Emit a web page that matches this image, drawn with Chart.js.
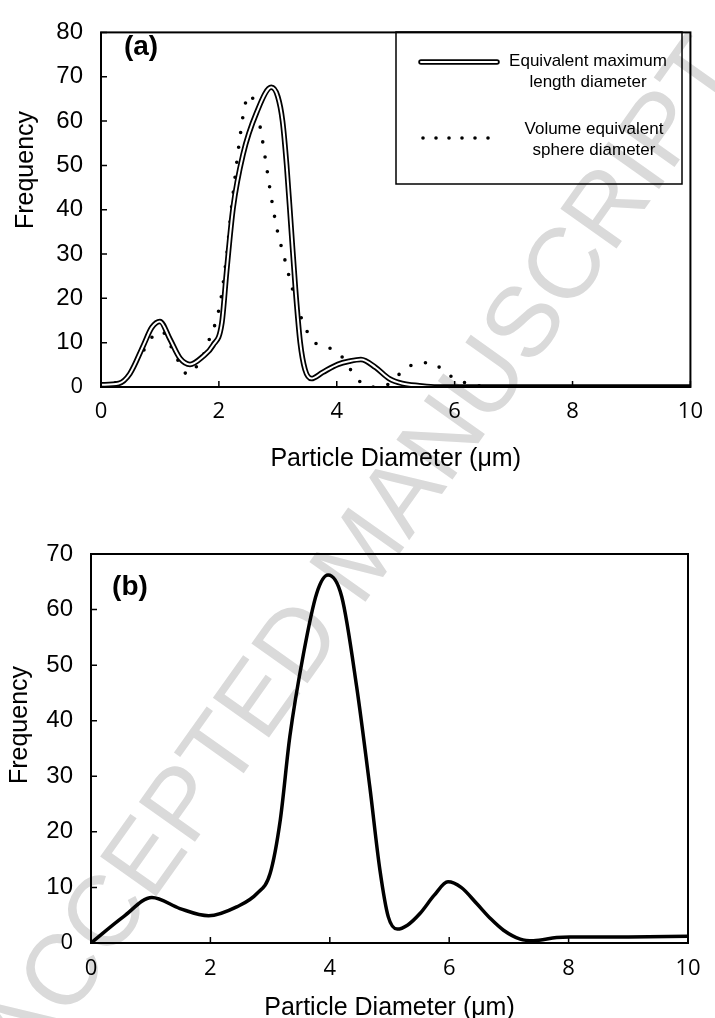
<!DOCTYPE html>
<html>
<head>
<meta charset="utf-8">
<script src="https://cdn.jsdelivr.net/npm/chart.js@4.4.1/dist/chart.umd.min.js"></script>
<style>
  html, body { margin: 0; padding: 0; background: #fff; }
  body { width: 715px; height: 1018px; position: relative; overflow: hidden; }
  .mark {
    position: absolute; left: 358px; top: 552px;
    transform: translate(-50%, -50%) rotate(-54.6deg);
    font: 100px "Liberation Sans", Arial, sans-serif;
    color: #dadada; white-space: nowrap; line-height: 1; z-index: 0;
  }
  #chartA { position: absolute; left: 0; top: 0; z-index: 1; }
  #chartB { position: absolute; left: 0; top: 500px; z-index: 1; }
</style>
</head>
<body>
<div class="mark">ACCEPTED MANUSCRIPT</div>
<canvas id="chartA" width="715" height="480"></canvas>
<canvas id="chartB" width="715" height="518"></canvas>
<script>
// (a) equivalent maximum length diameter
const mldX = [0, 0.3, 0.49, 0.72, 0.86, 1.0, 1.17, 1.34, 1.51, 1.73, 1.9, 2.05, 2.13, 2.24, 2.41, 2.64, 2.89, 3.0, 3.08, 3.15, 3.22, 3.3, 3.38, 3.46, 3.57, 3.76, 4.02, 4.21, 4.41, 4.66, 4.89, 5.11, 5.4, 5.7, 10];
const mldY = [0.5, 0.8, 3, 9.4, 13.4, 14.8, 10.8, 6.5, 5.1, 6.9, 9.4, 14.4, 25.9, 40.3, 52.5, 61.9, 67.6, 65.5, 60, 50, 37, 22, 10, 4, 1.9, 3.3, 5.1, 5.8, 6.2, 4.4, 1.9, 0.8, 0.3, 0, 0];

// (a) volume equivalent sphere diameter
const vesX = [0, 0.25, 0.48, 0.6, 0.75, 0.9, 1.0, 1.09, 1.2, 1.32, 1.47, 1.65, 1.77, 1.86, 1.95, 2.03, 2.09, 2.15, 2.2, 2.26, 2.32, 2.39, 2.43, 2.51, 2.63, 2.73, 2.81, 2.89, 2.98, 3.11, 3.24, 3.39, 3.49, 3.64, 3.89, 4.11, 4.25, 4.42, 4.65, 4.9, 5.11, 5.35, 5.61, 5.83, 6.06, 6.31, 6.6, 10];
const vesY = [0, 1, 2.8, 5.6, 8.8, 11.8, 12.5, 11.9, 8.8, 5.7, 2.8, 5.2, 8.2, 11.6, 14.8, 19.5, 25.1, 31.8, 38.7, 45.7, 52.5, 59.4, 62.8, 66, 63.1, 56.4, 49.6, 42.7, 36, 29.2, 22.5, 15.9, 12.7, 9.9, 8.7, 6.5, 3.6, 0.9, 0, 0.8, 3.5, 5.3, 5.5, 3.4, 1.5, 0.6, 0, 0];

// (b)
const bX = [0, 0.54, 1.02, 1.49, 1.97, 2.44, 2.78, 3.0, 3.17, 3.33, 3.56, 3.78, 3.97, 4.2, 4.45, 4.67, 4.84, 4.98, 5.13, 5.3, 5.51, 5.75, 5.98, 6.2, 6.46, 6.7, 6.91, 7.19, 7.41, 7.8, 8.02, 9, 10];
const bY = [0, 4.7, 8.2, 6.2, 4.9, 6.5, 8.9, 12.5, 22.1, 37.1, 52.1, 62.9, 66.2, 62.3, 46.1, 28.1, 13.1, 4.7, 2.5, 3.2, 5.3, 8.6, 11, 10, 7.1, 4.3, 2.3, 0.7, 0.4, 1.0, 1.1, 1.1, 1.2];

const legendLabels = [["Equivalent maximum", "length diameter"], ["Volume equivalent", "sphere diameter"]];

function pts(xs, ys) {
  return xs.map((x, i) => ({ x: x, y: ys[i] }));
}

const ARIAL = '"Liberation Sans", Arial, sans-serif';
const CALI = '"Open Sans", "Noto Sans", sans-serif';

// frame, inward ticks, rotated y title, panel letter, optional legend
const decor = {
  id: "decor",
  afterDatasetsDraw(chart, args, opts) {
    const ctx = chart.ctx;
    const a = chart.chartArea;
    ctx.save();
    ctx.strokeStyle = "#000";
    ctx.fillStyle = "#000";

    // inward tick marks
    ctx.lineWidth = 1.5;
    ctx.beginPath();
    chart.scales.x.ticks.forEach(t => {
      const px = chart.scales.x.getPixelForValue(t.value);
      ctx.moveTo(px, a.bottom);
      ctx.lineTo(px, a.bottom - 6);
    });
    chart.scales.y.ticks.forEach(t => {
      const py = chart.scales.y.getPixelForValue(t.value);
      ctx.moveTo(a.left, py);
      ctx.lineTo(a.left + 6, py);
    });
    ctx.stroke();

    ctx.lineWidth = 2;
    ctx.strokeRect(a.left, a.top, a.right - a.left, a.bottom - a.top);

    ctx.font = "bold 28px " + ARIAL;
    ctx.textAlign = "center";
    ctx.textBaseline = "middle";
    ctx.fillText(opts.panel, opts.panelX, opts.panelY);

    ctx.save();
    ctx.translate(opts.titleX, opts.titleY);
    ctx.rotate(-Math.PI / 2);
    ctx.font = "25px " + ARIAL;
    ctx.fillText("Frequency", 0, 0);
    ctx.restore();

    if (opts.legend) {
      const L = opts.legend;
      ctx.lineWidth = 1.5;
      ctx.strokeRect(L.x, L.y, L.w, L.h);
      // double line sample
      ctx.lineCap = "round";
      ctx.beginPath();
      ctx.moveTo(L.x + 25, L.y + 30);
      ctx.lineTo(L.x + 101, L.y + 30);
      ctx.lineWidth = 5.5;
      ctx.strokeStyle = "#000";
      ctx.stroke();
      ctx.lineWidth = 2;
      ctx.strokeStyle = "#fff";
      ctx.stroke();
      // dotted sample
      for (let i = 0; i < 6; i++) {
        ctx.beginPath();
        ctx.arc(L.x + 27 + i * 13, L.y + 106, 1.8, 0, Math.PI * 2);
        ctx.fill();
      }
      ctx.font = "17px " + ARIAL;
      ctx.fillText(legendLabels[0][0], L.x + 192, L.y + 29);
      ctx.fillText(legendLabels[0][1], L.x + 192, L.y + 50);
      ctx.fillText(legendLabels[1][0], L.x + 198, L.y + 97);
      ctx.fillText(legendLabels[1][1], L.x + 198, L.y + 118);
    }
    ctx.restore();
  }
};

function options(cfg) {
  return {
    responsive: false,
    animation: false,
    layout: { padding: cfg.padding },
    plugins: {
      legend: { display: false },
      tooltip: { enabled: false },
      decor: cfg.decor
    },
    scales: {
      x: {
        type: "linear",
        min: 0, max: 10,
        afterFit: s => { s.height = cfg.xHeight; },
        grid: { display: false, drawTicks: false },
        border: { display: false },
        ticks: { stepSize: 2, padding: cfg.xPad, color: "#000", maxRotation: 0, autoSkip: false,
                 font: { family: CALI, size: 22 } },
        title: { display: true, text: "Particle Diameter (μm)", color: "#000",
                 font: { family: ARIAL, size: 25, lineHeight: 1.2 },
                 padding: { top: 0, bottom: cfg.titlePad } }
      },
      y: {
        min: 0, max: cfg.yMax,
        afterFit: s => { s.width = cfg.yWidth; },
        grid: { display: false, drawTicks: false },
        border: { display: false },
        ticks: { stepSize: 10, padding: 18, color: "#000",
                 font: ctx => ctx.tick && ctx.tick.value === 0 ? { family: CALI, size: 22 } : { family: ARIAL, size: 24 } }
      }
    }
  };
}

new Chart(document.getElementById("chartA"), {
  type: "line",
  data: {
    datasets: [
      { label: "Equivalent maximum length diameter", data: pts(mldX, mldY), borderColor: "#fff", borderWidth: 2,
        pointRadius: 0, cubicInterpolationMode: "monotone" },
      { label: "Equivalent maximum length diameter", data: pts(mldX, mldY), borderColor: "#000", borderWidth: 5.5,
        pointRadius: 0, cubicInterpolationMode: "monotone" },
      { label: "Volume equivalent sphere diameter", data: pts(vesX, vesY), borderColor: "#000", borderWidth: 3.6,
        borderDash: [0, 15], borderCapStyle: "round", pointRadius: 0, cubicInterpolationMode: "monotone" }
    ]
  },
  options: options({
    padding: { top: 16, right: 23, left: 0, bottom: 0 },
    xHeight: 93, yWidth: 101, yMax: 80, xPad: 12, titlePad: 6,
    decor: { panel: "(a)", panelX: 141, panelY: 47, titleX: 26, titleY: 170,
             legend: { x: 396, y: 32, w: 286, h: 152 } }
  }),
  plugins: [decor]
});

new Chart(document.getElementById("chartB"), {
  type: "line",
  data: {
    datasets: [
      { label: "Frequency", data: pts(bX, bY), borderColor: "#000", borderWidth: 3.5,
        pointRadius: 0, cubicInterpolationMode: "monotone" }
    ]
  },
  options: options({
    padding: { top: 54, right: 27, left: 0, bottom: 0 },
    xHeight: 75, yWidth: 91, yMax: 70, xPad: 13, titlePad: -5,
    decor: { panel: "(b)", panelX: 130, panelY: 87, titleX: 20, titleY: 225 }
  }),
  plugins: [decor]
});
</script>
</body>
</html>
